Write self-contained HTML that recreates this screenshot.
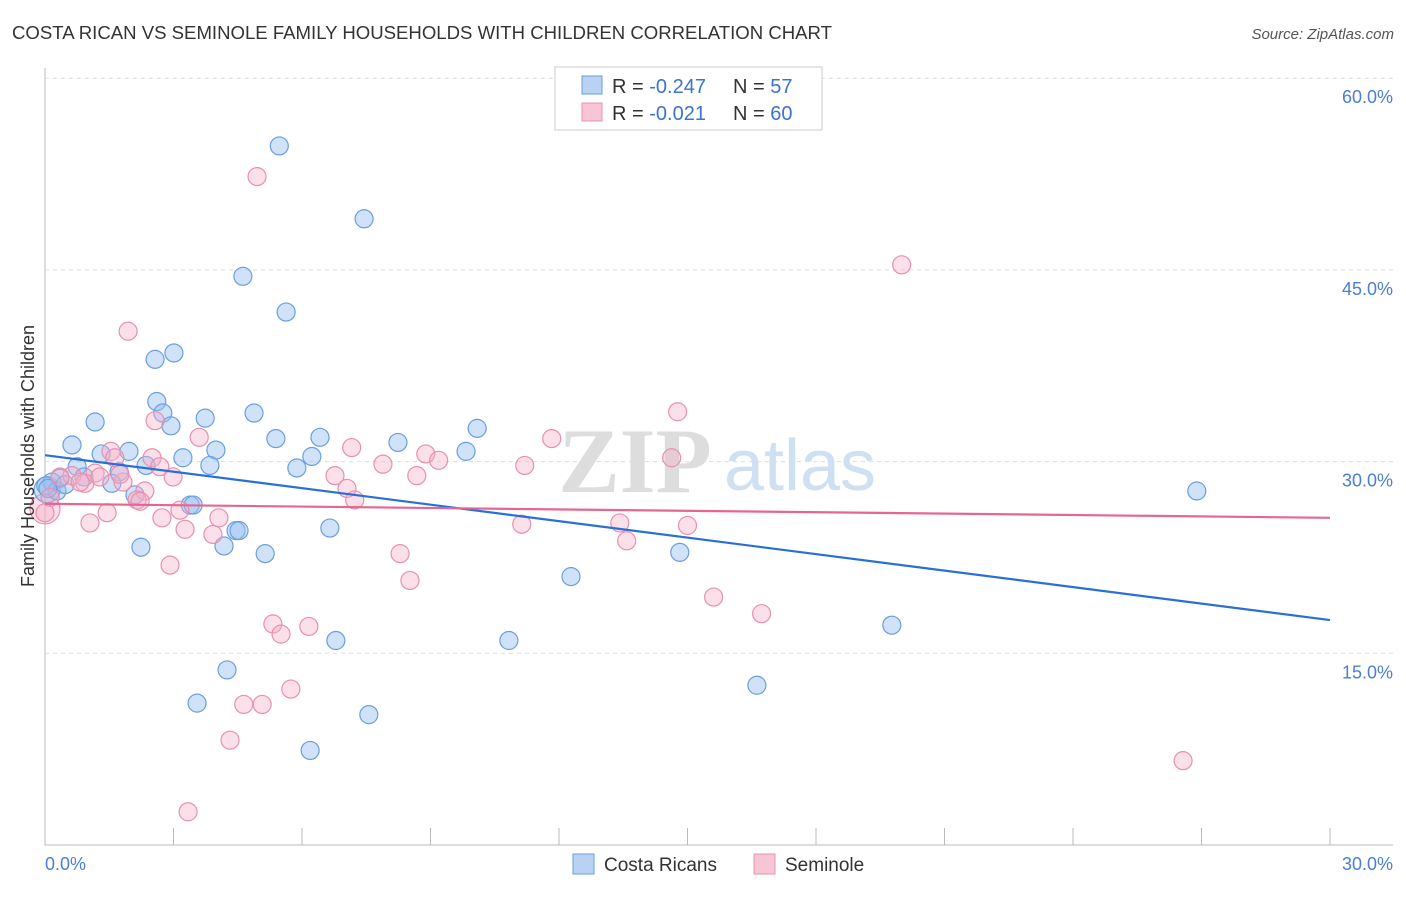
<!DOCTYPE html>
<html><head><meta charset="utf-8"><style>
body{margin:0;background:#fff;font-family:"Liberation Sans",sans-serif}
</style></head><body>
<svg width="1406" height="892" xmlns="http://www.w3.org/2000/svg" id="chart">
<text x="12" y="39" font-size="18" fill="#333" textLength="820" lengthAdjust="spacingAndGlyphs">COSTA RICAN VS SEMINOLE FAMILY HOUSEHOLDS WITH CHILDREN CORRELATION CHART</text>
<text x="1394" y="39" font-size="15" fill="#555" font-style="italic" text-anchor="end">Source: ZipAtlas.com</text>
<g><text x="635" y="492" font-size="92" font-family="Liberation Serif" fill="#ddd" text-anchor="middle" font-weight="bold">ZIP</text><text x="800" y="490" font-size="72" fill="#cfe0f3" text-anchor="middle">atlas</text></g>
<line x1="45" y1="68" x2="45" y2="845" stroke="#bbb"/>
<line x1="45" y1="845" x2="1393" y2="845" stroke="#bbb"/>
<g id="grid"></g><g id="pts"></g><g id="trend"></g>
<text x="34" y="456" font-size="18" fill="#333" text-anchor="middle" transform="rotate(-90 34 456)">Family Households with Children</text>
<text x="45" y="870" font-size="18" fill="#4a7fd4">0.0%</text>
<text x="1393" y="870" font-size="18" fill="#4a7fd4" text-anchor="end">30.0%</text>
<g>
<rect x="555" y="67" width="267" height="63" fill="#fff" stroke="#ccc"/>
<rect x="582" y="76" width="20" height="18" fill="#b9d2f4" stroke="#6a9ee0"/>
<rect x="582" y="103" width="20" height="18" fill="#f8c5d5" stroke="#e890ad"/>
<text x="612" y="93" font-size="20" fill="#333">R = <tspan fill="#3b73d1">-0.247</tspan><tspan x="733">N = </tspan><tspan fill="#3b73d1">57</tspan></text>
<text x="612" y="120" font-size="20" fill="#333">R = <tspan fill="#3b73d1">-0.021</tspan><tspan x="733">N = </tspan><tspan fill="#3b73d1">60</tspan></text>
</g>
<g>
<rect x="573" y="854" width="21" height="20" fill="#b9d2f4" stroke="#6a9ee0"/>
<text x="604" y="871" font-size="19" fill="#333">Costa Ricans</text>
<rect x="754" y="854" width="21" height="20" fill="#f8c5d5" stroke="#e890ad"/>
<text x="785" y="871" font-size="19" fill="#333">Seminole</text>
</g>
</svg>
<script>
const yTicks=[15,30,45,60];
const xTicks=[0,3,6,9,12,15,18,21,24,27,30];
const blueX=[5.47,7.45,4.62,5.63,3.01,2.57,2.61,2.75,2.94,3.74,4.88,1.17,0.63,1.96,1.31,3.22,3.99,5.39,6.42,8.24,10.09,9.83,6.23,5.88,3.85,2.36,1.73,0.75,0.35,0.16,0.28,0.91,1.56,2.10,3.39,3.46,4.46,4.53,6.65,4.18,2.24,5.14,12.28,14.82,6.79,10.83,19.77,16.62,4.25,3.55,7.56,6.19,26.89,0.02,0.07,0.47];
const blueY=[54.7,49.0,44.5,41.7,38.5,38.0,34.7,33.8,32.8,33.4,33.8,33.1,31.3,30.8,30.6,30.3,30.9,31.8,31.9,31.5,32.6,30.8,30.4,29.5,29.7,29.7,29.2,29.6,28.7,28.4,27.7,28.8,28.3,27.4,26.6,26.6,24.6,24.6,24.8,23.4,23.3,22.8,21.0,22.9,16.0,16.0,17.2,12.5,13.7,11.1,10.2,7.4,27.7,28.1,27.9,28.2];
const pinkX=[4.95,20.00,1.94,14.77,2.57,3.60,7.16,11.83,1.54,2.50,8.89,9.19,7.89,11.20,14.63,6.77,8.68,2.99,1.17,0.63,0.93,1.82,2.33,7.05,7.23,2.15,2.22,1.45,1.05,2.73,3.15,4.06,3.27,3.92,11.13,13.42,15.00,13.58,8.29,2.92,8.52,15.61,16.73,5.32,5.51,6.16,5.74,4.64,5.07,4.32,3.34,26.57,0,0.12,0.35,0.82,1.28,1.75,1.63,2.68];
const pinkY=[52.3,45.4,40.2,33.9,33.2,31.9,31.1,31.8,30.8,30.3,30.6,30.1,29.8,29.7,30.3,28.9,28.9,28.8,29.1,28.9,28.3,28.4,27.7,27.9,27.0,27.0,26.9,26.0,25.2,25.6,26.2,25.6,24.7,24.3,25.1,25.2,25.0,23.8,22.8,21.9,20.7,19.4,18.1,17.3,16.5,17.1,12.2,11.0,11.0,8.2,2.6,6.6,26.0,27.2,28.8,28.4,28.8,29.0,30.3,29.6];
const blueTrend=[30.5,17.6];
const pinkTrend=[26.7,25.6];
const X=v=>45+v/30*1285, Y=v=>845-v*12.78;
const NS="http://www.w3.org/2000/svg";
function mk(tag,attrs,parent){const e=document.createElementNS(NS,tag);for(const k in attrs)e.setAttribute(k,attrs[k]);document.getElementById(parent).appendChild(e);return e;}
yTicks.forEach(t=>{
 const l=mk('line',{x1:45,x2:1393,y1:Y(t),y2:Y(t),stroke:'#ddd','stroke-dasharray':'4,4'},'grid');
 
 
 const tx=mk('text',{x:1393,y:Y(t)+25,'font-size':18,fill:'#4a7fd4','text-anchor':'end'},'grid');
 tx.textContent=t.toFixed(1)+'%';
 
 
});
xTicks.forEach(t=>{
 const l=mk('line',{x1:X(t),x2:X(t),y1:828,y2:845,stroke:'#bbb'},'grid');
 
 
});
const bigPink=mk('circle',{cx:X(0),cy:Y(26.3),r:15,fill:'rgba(245,175,200,0.4)',stroke:'#e890ad','stroke-width':1.2},'pts');


const bigBlue=mk('circle',{cx:X(0.05),cy:Y(27.8),r:13,fill:'rgba(150,190,240,0.45)',stroke:'#6a9ee0','stroke-width':1.2},'pts');


blueX.forEach((v,i)=>{
 const c=mk('circle',{cx:X(v),cy:Y(blueY[i]),r:9,fill:'rgba(150,190,240,0.45)',stroke:'#6a9ee0','stroke-width':1.2},'pts');
 
 
});
pinkX.forEach((v,i)=>{
 const c=mk('circle',{cx:X(v),cy:Y(pinkY[i]),r:9,fill:'rgba(245,175,200,0.4)',stroke:'#e890ad','stroke-width':1.2},'pts');
 
 
});
const bt=mk('line',{x1:X(0),y1:Y(blueTrend[0]),x2:X(30),y2:Y(blueTrend[1]),stroke:'#2a6fd6','stroke-width':2.2},'trend');


const pt=mk('line',{x1:X(0),y1:Y(pinkTrend[0]),x2:X(30),y2:Y(pinkTrend[1]),stroke:'#e56690','stroke-width':2.2},'trend');


</script>
</body></html>
